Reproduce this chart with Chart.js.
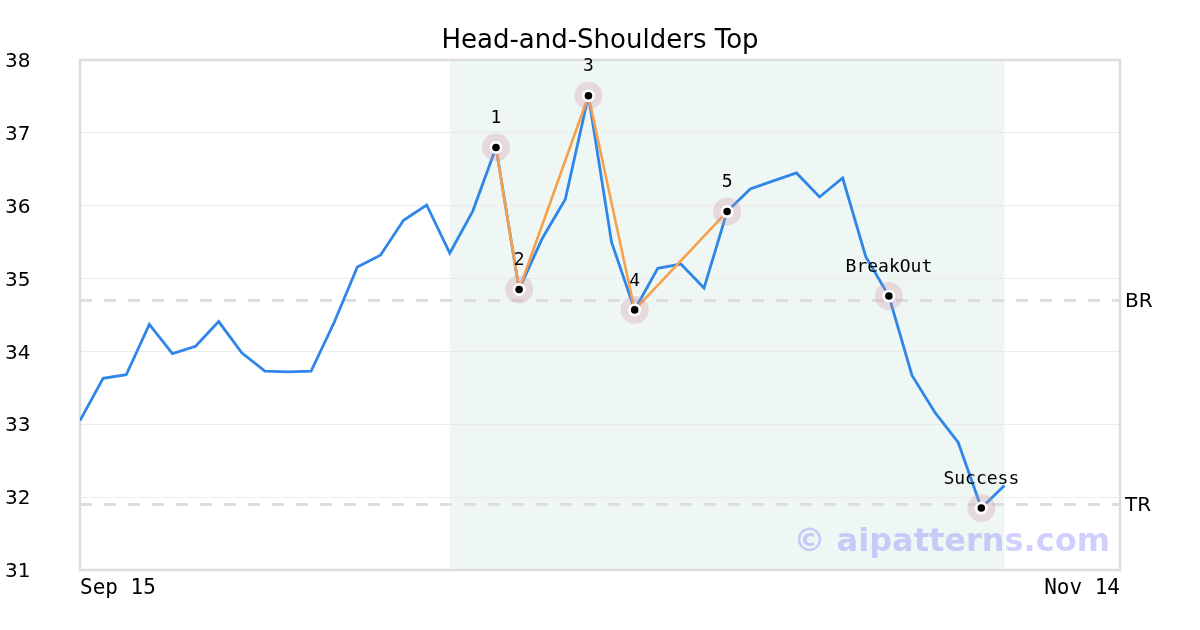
<!DOCTYPE html>
<html>
<head>
<meta charset="utf-8">
<script src="https://cdn.jsdelivr.net/npm/chart.js@4/dist/chart.umd.min.js"></script>
<style>
html,body{margin:0;padding:0;background:#fff;}
#wrap{width:1200px;height:630px;position:relative;}
</style>
</head>
<body>
<div id="wrap"><canvas id="c" width="1200" height="630"></canvas></div>
<script>
// ---- data ----
const titleText = "Head-and-Shoulders Top";
const xTickLabels = ["Sep 15", "Nov 14"];
const xTickPositions = [0, 45];
const prices = [33.05, 33.63, 33.68, 34.37, 33.97, 34.07, 34.41, 33.98, 33.73, 33.72,
                33.73, 34.40, 35.16, 35.32, 35.80, 36.01, 35.35, 35.93, 36.80, 34.85,
                35.55, 36.09, 37.51, 35.50, 34.57, 35.14, 35.20, 34.87, 35.92, 36.23,
                36.34, 36.45, 36.12, 36.38, 35.30, 34.76, 33.67, 33.16, 32.75, 31.85,
                32.16];
const patternIdx = [18, 19, 22, 24, 28];
const markerIdx = [18, 19, 22, 24, 28, 35, 39];
const markerLabels = ["1", "2", "3", "4", "5", "BreakOut", "Success"];
const levelNames = ["BR", "TR"];
const levelValues = [34.70, 31.90];
const shadeRange = [16, 40];
const watermark = "© aipatterns.com";

const pricePts = prices.map((v, i) => ({x: i, y: v}));
const patternPts = patternIdx.map(i => ({x: i, y: prices[i]}));
const markerPts = markerIdx.map(i => ({x: i, y: prices[i]}));
const levelPts = levelValues.map(v => [{x: xTickPositions[0], y: v}, {x: xTickPositions[1], y: v}]);

const decor = {
  id: 'decor',
  beforeDraw(chart) {
    const {ctx, chartArea: a, scales: {x}} = chart;
    ctx.save();
    const x0 = x.getPixelForValue(shadeRange[0]);
    const x1 = x.getPixelForValue(shadeRange[1]);
    ctx.fillStyle = '#eff7f4';
    ctx.fillRect(x0, a.top, x1 - x0, a.bottom - a.top);
    ctx.fillStyle = '#000';
    ctx.font = '26px "DejaVu Sans"';
    ctx.textAlign = 'center';
    ctx.textBaseline = 'middle';
    ctx.fillText(titleText, chart.width / 2, 41);
    ctx.restore();
  },
  beforeDatasetsDraw(chart) {
    const {ctx, chartArea: a} = chart;
    ctx.save();
    ctx.strokeStyle = '#dddddd';
    ctx.lineWidth = 2.5;
    ctx.strokeRect(a.left, a.top, a.right - a.left, a.bottom - a.top);
    // watermark
    ctx.font = 'bold 32px "DejaVu Sans"';
    ctx.fillStyle = 'rgba(110,110,255,0.32)';
    ctx.textAlign = 'right';
    ctx.textBaseline = 'middle';
    ctx.fillText(watermark, a.right - 10, a.bottom - 27);
    ctx.restore();
  },
  afterDatasetsDraw(chart) {
    const {ctx, chartArea: a, scales: {x, y}} = chart;
    ctx.save();
    ctx.fillStyle = '#000';
    ctx.textAlign = 'center';
    ctx.textBaseline = 'middle';
    ctx.font = '18px "DejaVu Sans Mono"';
    markerIdx.forEach((idx, k) => {
      ctx.fillText(markerLabels[k], x.getPixelForValue(idx), y.getPixelForValue(prices[idx]) - 29);
    });
    ctx.font = '20px "DejaVu Sans"';
    ctx.textAlign = 'left';
    levelValues.forEach((v, k) => {
      ctx.fillText(levelNames[k], a.right + 5, y.getPixelForValue(v) + 1);
    });
    ctx.restore();
  }
};

const datasets = [
  {label: 'halo', data: markerPts, showLine: false, pointRadius: 14, pointBackgroundColor: 'rgba(205,150,165,0.3)', pointBorderWidth: 0, order: 3},
  {label: 'white', data: markerPts, showLine: false, pointRadius: 6.5, pointBackgroundColor: '#ffffff', pointBorderWidth: 0, order: 2},
  {label: 'black', data: markerPts, showLine: false, pointRadius: 3.8, pointBackgroundColor: '#000000', pointBorderWidth: 0, order: 1},
  {label: 'pattern', data: patternPts, borderColor: '#f7a04b', borderWidth: 2.6, pointRadius: 0, order: 4, tension: 0},
  {label: 'price', data: pricePts, borderColor: '#2e86e8', borderWidth: 2.8, pointRadius: 0, order: 5, tension: 0},
];
levelPts.forEach((pts, k) => datasets.push({label: levelNames[k], data: pts, borderColor: '#dddddd', borderWidth: 3, borderDash: [12, 12], pointRadius: 0, order: 6}));

new Chart(document.getElementById('c'), {
  type: 'line',
  data: {datasets},
  options: {
    responsive: false,
    animation: false,
    events: [],
    layout: {padding: {left: 5, right: 80, top: 60, bottom: 0}},
    plugins: {
      legend: {display: false},
      tooltip: {enabled: false},
      title: {display: false}
    },
    scales: {
      x: {
        type: 'linear', min: xTickPositions[0], max: xTickPositions[1],
        grid: {display: false, drawTicks: false},
        border: {display: false},
        afterBuildTicks: s => { s.ticks = xTickPositions.map(v => ({value: v})); },
        afterFit: s => { s.height = 60; },
        ticks: {
          align: 'inner', maxRotation: 0, autoSkip: false, padding: 6, color: '#000',
          font: {family: '"DejaVu Sans Mono"', size: 21},
          callback: v => { const k = xTickPositions.indexOf(v); return k >= 0 ? xTickLabels[k] : ''; }
        }
      },
      y: {
        min: 31, max: 38,
        grid: {color: '#ebebeb', lineWidth: 1, drawTicks: false},
        border: {display: false},
        afterFit: s => { s.width = 75; },
        ticks: {stepSize: 1, crossAlign: 'far', padding: 0, labelOffset: 2, color: '#000', font: {family: '"DejaVu Sans"', size: 20}}
      }
    }
  },
  plugins: [decor]
});
</script>
</body>
</html>
